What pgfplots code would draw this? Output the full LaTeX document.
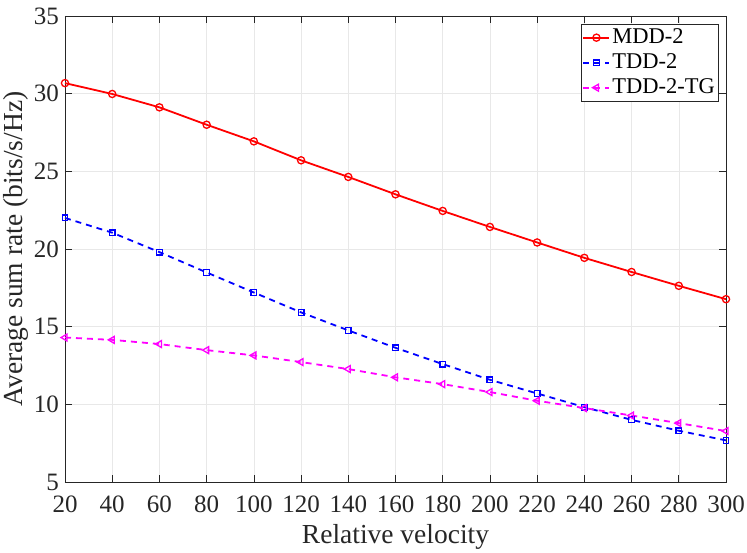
\documentclass[border=0pt]{standalone}
\usepackage{pgfplots}
\pgfplotsset{compat=1.18}
\usepackage{fontspec}
\setmainfont{Liberation Serif}
\definecolor{axgray}{rgb}{0.15,0.15,0.15}
\definecolor{mred}{rgb}{1,0,0}
\definecolor{mblue}{rgb}{0,0,1}
\definecolor{mmag}{rgb}{1,0,1}
\begin{document}
\begin{tikzpicture}[x=1pt,y=1pt]
\useasboundingbox (-65,-70) rectangle (682,482);
\begin{axis}[
  at={(0,0)}, anchor=south west,
  scale only axis, width=661pt, height=466pt,
  xmin=20, xmax=300, ymin=5, ymax=35,
  xtick={20,40,...,300}, ytick={5,10,...,35},
  tick align=inside, major tick length=7pt,
  grid=major, major grid style={gray!18, line width=0.5pt},
  axis line style={axgray, line width=0.6pt},
  tick style={axgray, line width=0.6pt},
  ticklabel style={font=\fontsize{25}{29}\selectfont, text=axgray, inner sep=0pt},
  xticklabel style={anchor=base, yshift=-30pt},
  yticklabel style={anchor=east, xshift=-6pt},
  /pgf/number format/assume math mode=true,
  xlabel={Relative velocity}, ylabel={Average sum rate (bits/s/Hz)},
  label style={font=\fontsize{27.5}{31}\selectfont, text=axgray},
  xlabel style={at={(axis description cs:0.5,0)}, anchor=base, yshift=-61pt},
  ylabel style={at={(axis description cs:0,0.5)}, anchor=south, yshift=33pt},
  legend style={at={(rel axis cs:0.988,0.983)}, anchor=north east,
    font=\fontsize{22.5}{25}\selectfont, draw=axgray, line width=0.5pt,
    inner sep=1pt, row sep=0pt,
    nodes={text height=16pt, text depth=5pt, inner sep=2pt},
    cells={anchor=west}},
  legend image code/.code={\draw[mark repeat=2,mark phase=2] plot coordinates {(0pt,0pt) (13pt,0pt) (26pt,0pt)};},
  legend cell align=left,
]
\addplot[mred, line width=1.8pt, mark=o, mark size=3.6pt, mark options={solid, line width=1.3pt}] coordinates {
(20,30.68) (40,29.98) (60,29.12) (80,28.0) (100,26.93) (120,25.71) (140,24.64) (160,23.52) (180,22.45) (200,21.42) (220,20.42) (240,19.43) (260,18.52) (280,17.63) (300,16.77)};
\addlegendentry{MDD-2}
\addplot[mblue, line width=1.8pt, dash pattern=on 6pt off 5pt, mark=square, mark size=2.8pt, mark options={solid, line width=1.3pt}] coordinates {
(20,22.0) (40,21.05) (60,19.8) (80,18.49) (100,17.2) (120,15.92) (140,14.76) (160,13.64) (180,12.59) (200,11.58) (220,10.7) (240,9.82) (260,9.0) (280,8.3) (300,7.68)};
\addlegendentry{TDD-2}
\addplot[mmag, line width=1.8pt, dash pattern=on 6pt off 5pt, mark=triangle, mark size=4pt, mark options={solid, rotate=90, line width=1.3pt}] coordinates {
(20,14.3) (40,14.15) (60,13.88) (80,13.49) (100,13.15) (120,12.72) (140,12.27) (160,11.74) (180,11.3) (200,10.79) (220,10.23) (240,9.76) (260,9.28) (280,8.79) (300,8.28)};
\addlegendentry{TDD-2-TG}
\end{axis}
\end{tikzpicture}
\end{document}
